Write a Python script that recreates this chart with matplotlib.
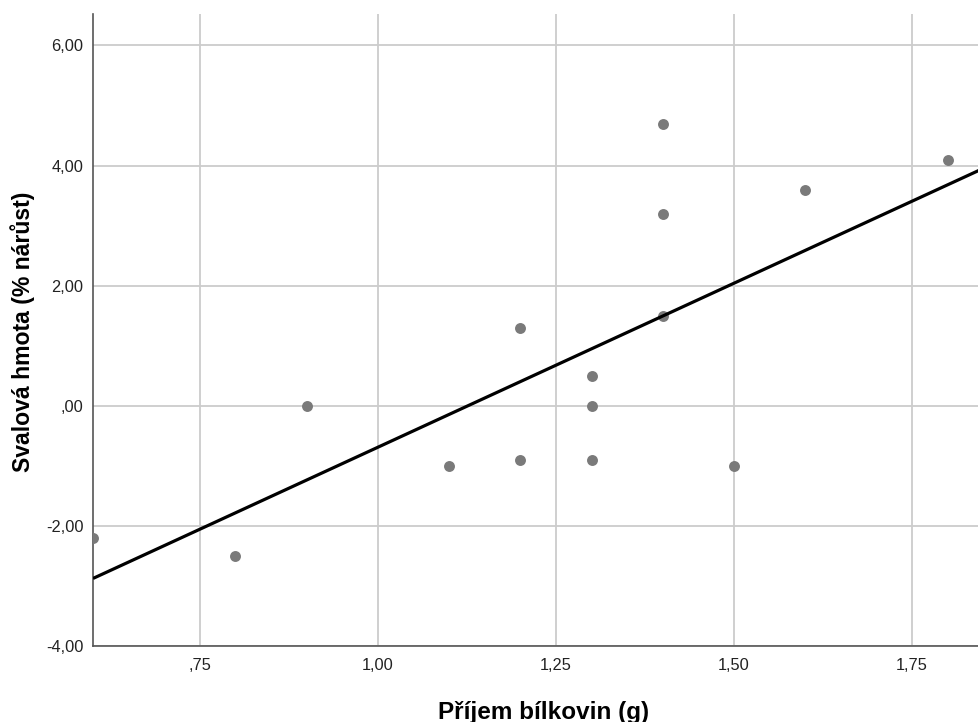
import numpy as np
import matplotlib.pyplot as plt

plt.rcParams['font.family'] = ['Liberation Sans', 'DejaVu Sans']

# příjem bílkovin (g) a nárůst svalové hmoty (%)
protein = [0.6, 0.8, 0.9, 1.1, 1.2, 1.2, 1.3, 1.3, 1.3, 1.4, 1.4, 1.4, 1.5, 1.6, 1.8]
muscle = [-2.2, -2.5, 0.0, -1.0, -0.9, 1.3, -0.9, 0.0, 0.5, 1.5, 3.2, 4.7, -1.0, 3.6, 4.1]

x_ticks = [0.75, 1.00, 1.25, 1.50, 1.75]
x_tick_labels = [',75', '1,00', '1,25', '1,50', '1,75']
y_ticks = [-4, -2, 0, 2, 4, 6]
y_tick_labels = ['-4,00', '-2,00', ',00', '2,00', '4,00', '6,00']

fig = plt.figure(figsize=(9.79, 7.22), dpi=100)
ax = fig.add_axes([0.095, 0.1053, 0.905, 0.875])

ax.set_xlim(0.6, 1.844)
ax.set_ylim(-4, 6.52)

ax.grid(True, color='#cccccc', linewidth=1.3)
ax.set_axisbelow(True)

ax.scatter(protein, muscle, s=62, color='#7a7a7a', zorder=3, linewidths=0)

# lineární regrese
slope, intercept = np.polyfit(protein, muscle, 1)
xs = np.array([0.6, 1.844])
ax.plot(xs, intercept + slope * xs, color='black', linewidth=2.3, zorder=4,
        solid_capstyle='butt')

ax.set_xticks(x_ticks)
ax.set_xticklabels(x_tick_labels)
ax.set_yticks(y_ticks)
ax.set_yticklabels(y_tick_labels)
ax.tick_params(length=0, labelsize=11.8, colors='#222222', pad=7)
ax.tick_params(axis='x', pad=9)

for s in ['top', 'right']:
    ax.spines[s].set_visible(False)
for s in ['left', 'bottom']:
    ax.spines[s].set_color('#555555')
    ax.spines[s].set_linewidth(1.2)

ax.set_xlabel('Příjem bílkovin (g)', fontsize=17.5, fontweight='bold')
ax.xaxis.set_label_coords(0.508, -0.087)
ax.set_ylabel('Svalová hmota (% nárůst)', fontsize=16.6, fontweight='bold')
ax.yaxis.set_label_coords(-0.066, 0.497)

fig.savefig('out.png', dpi=100)
